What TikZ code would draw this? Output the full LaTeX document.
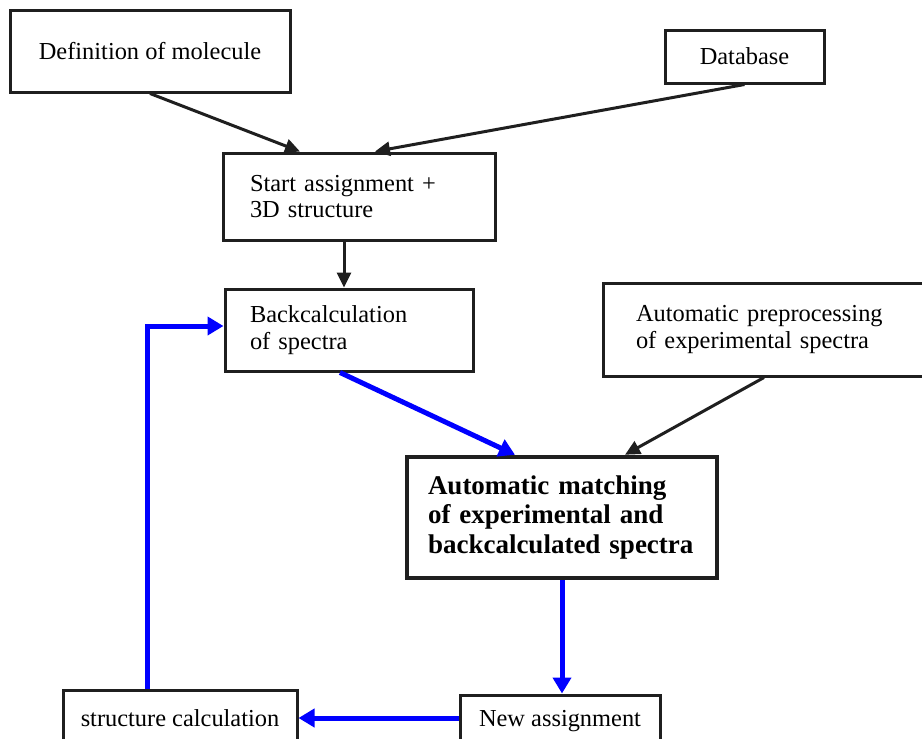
\documentclass[tikz,border=0pt]{standalone}
\usepackage{fontspec}
\setmainfont{Liberation Serif}
\usetikzlibrary{arrows.meta}

\begin{document}
\begin{tikzpicture}[x=1pt,y=-1pt,
    box/.style={draw=black!88, line width=3pt, fill=white, inner sep=0pt,
      font=\fontsize{24.4}{26.5}\selectfont},
    leftbox/.style={box, align=left},
    flow/.style={black!88, line width=3pt, -{Triangle[length=15pt,width=14pt]}},
    loop/.style={blue, line width=5pt, -{Triangle[length=16pt,width=18pt]}}]
  \clip (0,0) rectangle (922,739);

  \node[box, minimum width=280, minimum height=82] (def) at (150,51) {Definition of molecule};
  \node[box, minimum width=159, minimum height=53] (db) at (744.5,56.5) {Database};
  \node[leftbox, text width=218, inner xsep=27, minimum height=87] (start) at (359,196.5)
    {Start assignment +\\3D structure};
  \node[leftbox, text width=198, inner xsep=25, minimum height=82] (back) at (349,330)
    {Backcalculation\\of spectra};
  \node[leftbox, text width=256, inner xsep=33, minimum height=93] (pre) at (764,329.5)
    {Automatic preprocessing\\of experimental spectra};
  \node[leftbox, line width=4.5pt, text width=268, inner xsep=21, minimum height=121,
    font=\fontsize{27}{29.5}\selectfont\bfseries] (match) at (562,517.5)
    {Automatic matching\\of experimental and\\backcalculated spectra};
  \node[box, minimum width=234, minimum height=56, text height=20, text depth=3] (struct) at (180,718) {structure calculation};
  \node[box, minimum width=200, minimum height=46, text height=20, text depth=3] (new) at (560,718) {New assignment};

  % input arrows
  \draw[flow] (def.south) -- ([xshift=-59]start.north);
  \draw[flow] (db.south) -- ([xshift=16]start.north);
  \draw[flow] ([xshift=-5]back.north |- start.south) -- ([xshift=-5]back.north);
  \draw[flow] (pre.south) -- ([xshift=63]match.north);

  % refinement loop
  \draw[loop] ([xshift=-9]back.south) -- ([xshift=-47]match.north);
  \draw[loop] (match.south) -- (match.south |- new.north);
  \draw[loop] (new.west) -- (struct.east);
  \draw[loop] ([xshift=-33]struct.north) |- ([yshift=4]back.west);
\end{tikzpicture}
\end{document}
